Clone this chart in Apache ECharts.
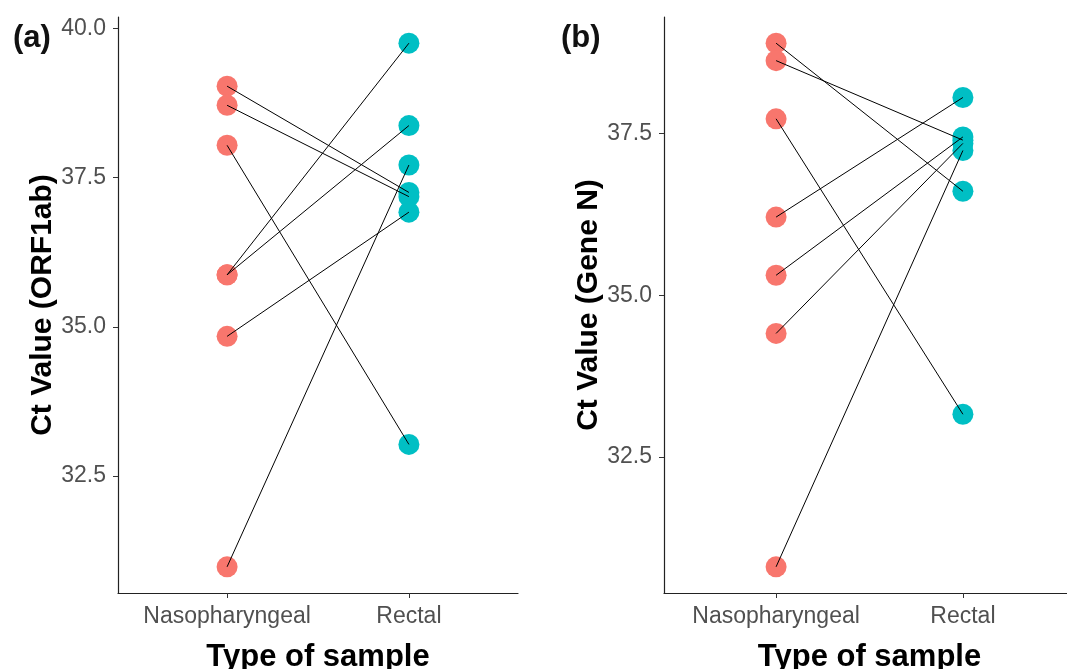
<!DOCTYPE html>
<html>
<head>
<meta charset="utf-8">
<script src="https://cdn.jsdelivr.net/npm/echarts@6/dist/echarts.min.js"></script>
<style>
html,body{margin:0;padding:0;background:#fff;}
#chart{width:1067px;height:669px;}
</style>
</head>
<body>
<div id="chart"></div>
<script>
// Categories
const categories = ['Nasopharyngeal', 'Rectal'];
// Panel (a): Ct value ORF1ab, paired samples (index i pairs np[i] with rec[i])
const npA  = [39.03, 38.71, 38.04, 35.87, 35.87, 34.84, 30.98];
const recA = [37.25, 37.18, 33.03, 39.75, 38.37, 36.92, 37.71];
// Panel (b): Ct value Gene N
const npB  = [38.90, 38.63, 37.73, 36.21, 35.31, 34.41, 30.80];
const recB = [36.61, 37.40, 33.16, 38.06, 37.45, 37.35, 37.24];
// Tick labels
const yTicksA = [32.5, 35.0, 37.5, 40.0];
const yTicksB = [32.5, 35.0, 37.5];

const RED = '#F8766D', TEAL = '#00BFC4';
const FONT = "'Liberation Sans', Arial, sans-serif";

function yRange(a, b) {
  const all = a.concat(b);
  const mn = Math.min(...all), mx = Math.max(...all);
  const pad = (mx - mn) * 0.05;
  return [mn - pad, mx + pad];
}

function xAxis(idx) {
  return {
    type: 'value', gridIndex: idx, min: 0.4, max: 2.6,
    name: 'Type of sample', nameLocation: 'middle', nameGap: 49,
    nameTextStyle: {fontFamily: FONT, fontWeight: 'bold', fontSize: 31, color: '#000'},
    axisLine: {show: true, lineStyle: {color: '#222', width: 1.2}},
    axisTick: {show: true, length: 5, customValues: [1, 2], lineStyle: {color: '#333'}},
    axisLabel: {customValues: [1, 2], formatter: v => categories[Math.round(v) - 1] || '',
      fontFamily: FONT, fontSize: 23, color: '#505050', margin: 12},
    splitLine: {show: false}
  };
}
function yAxis(idx, rng, ticks, name) {
  return {
    type: 'value', gridIndex: idx, min: rng[0], max: rng[1],
    name: name, nameLocation: 'middle', nameGap: 60, nameRotate: 90,
    nameTextStyle: {fontFamily: FONT, fontWeight: 'bold', fontSize: 30, color: '#000'},
    axisLine: {show: true, lineStyle: {color: '#222', width: 1.2}},
    axisTick: {show: true, length: 5, customValues: ticks, lineStyle: {color: '#333'}},
    axisLabel: {customValues: ticks, formatter: v => v.toFixed(1),
      fontFamily: FONT, fontSize: 23, color: '#505050', margin: 12},
    splitLine: {show: false}
  };
}

const series = [];
function addPanel(idx, np, rec) {
  series.push({type: 'scatter', xAxisIndex: idx, yAxisIndex: idx, symbolSize: 21,
    itemStyle: {color: RED, opacity: 1}, z: 2, data: np.map(v => [1, v])});
  series.push({type: 'scatter', xAxisIndex: idx, yAxisIndex: idx, symbolSize: 21,
    itemStyle: {color: TEAL, opacity: 1}, z: 2, data: rec.map(v => [2, v])});
  np.forEach((v, i) => {
    series.push({type: 'line', xAxisIndex: idx, yAxisIndex: idx, symbol: 'none', z: 5,
      lineStyle: {color: '#000', width: 1}, silent: true,
      data: [[1, v], [2, rec[i]]]});
  });
}
addPanel(0, npA, recA);
addPanel(1, npB, recB);

const chart = echarts.init(document.getElementById('chart'), null, {renderer: 'canvas'});
chart.setOption({
  animation: false,
  backgroundColor: '#fff',
  title: [
    {text: '(a)', left: 8, top: 18, textStyle: {fontFamily: FONT, fontWeight: 'bold', fontSize: 31, color: '#111'}},
    {text: '(b)', left: 556, top: 18, textStyle: {fontFamily: FONT, fontWeight: 'bold', fontSize: 31, color: '#111'}}
  ],
  grid: [
    {left: 118, top: 17, width: 400, bottom: 76, outerBoundsMode: 'none'},
    {left: 664, top: 17, right: -8, bottom: 76, outerBoundsMode: 'none'}
  ],
  xAxis: [xAxis(0), xAxis(1)],
  yAxis: [yAxis(0, yRange(npA, recA), yTicksA, 'Ct Value (ORF1ab)'),
          yAxis(1, yRange(npB, recB), yTicksB, 'Ct Value (Gene N)')],
  series: series
});
</script>
</body>
</html>
